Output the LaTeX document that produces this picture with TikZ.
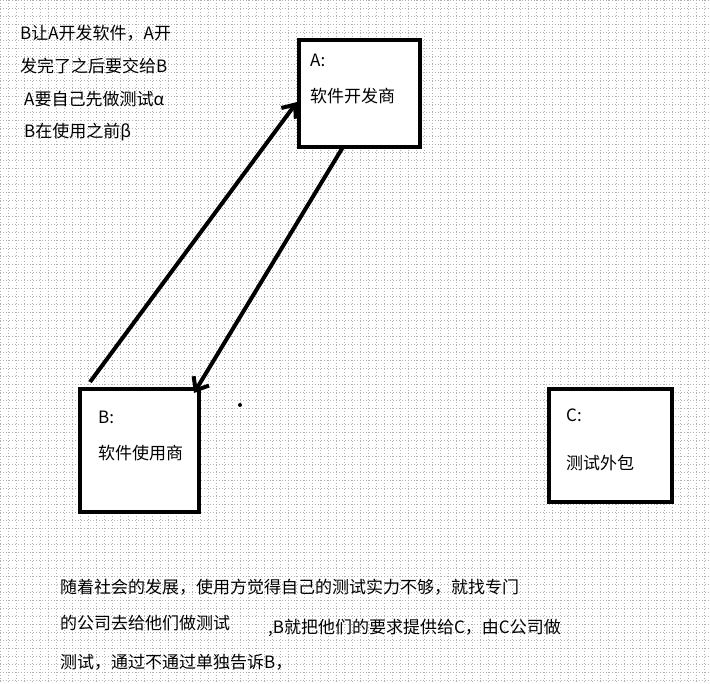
\documentclass[tikz,border=0pt]{standalone}
\usepackage{fontspec}
\setmainfont{Noto Sans CJK SC}
\usetikzlibrary{arrows.meta}
\begin{document}
\begin{tikzpicture}[x=1pt,y=-1pt,
  box/.style={draw,line width=4pt,fill=white},
  lbl/.style={anchor=west,inner sep=0pt,font=\fontsize{17}{19}\selectfont},
  arr/.style={line width=4pt,-{Straight Barb[length=11pt,width=18pt,line width=4pt]}},
  gridln/.style={gray!60,line width=0.6pt,dash pattern=on 1pt off 2pt}]
\useasboundingbox (0,0) rectangle (710,684);
\fill[white] (0,0) rectangle (710,684);
\foreach \i in {0,8,...,710} {\draw[gridln] (\i,0) -- (\i,684);}
\foreach \j in {0,8,...,684} {\draw[gridln] (0,\j) -- (710,\j);}
\node[box,minimum width=121pt,minimum height=107pt,anchor=north west] (A) at (297,38) {};
\node[box,minimum width=119pt,minimum height=123pt,anchor=north west] (B) at (78,387) {};
\node[box,minimum width=123pt,minimum height=113pt,anchor=north west] (C) at (547,387) {};
\node[lbl] (a1) at (310,60) {A:};
\node[lbl] (a2) at (310,96) {软件开发商};
\node[lbl] (b1) at (98,417) {B:};
\node[lbl] (b2) at (98,453) {软件使用商};
\node[lbl] (c1) at (566,415) {C:};
\node[lbl] (c2) at (566,463) {测试外包};
\coordinate (p1) at (90,382);
\coordinate (p2) at (297,102);
\coordinate (p3) at (343,147);
\coordinate (p4) at (194,393);
\draw[arr] (p1) -- (p2);
\draw[arr] (p3) -- (p4);
\fill (240,405) circle (2pt);
\node[lbl] (t1) at (20,33) {B让A开发软件，A开};
\node[lbl] (t2) at (20,66) {发完了之后要交给B};
\node[lbl] (t3) at (24,99) {A要自己先做测试α};
\node[lbl] (t4) at (24,132) {B在使用之前β};
\node[lbl] (m1) at (60,587) {随着社会的发展，使用方觉得自己的测试实力不够，就找专门};
\node[lbl] (m2) at (60,623) {的公司去给他们做测试};
\node[lbl] (m3) at (268,628) {,B就把他们的要求提供给C，由C公司做};
\node[lbl] (m4) at (60,662) {测试，通过不通过单独告诉B，};
\end{tikzpicture}
\end{document}
